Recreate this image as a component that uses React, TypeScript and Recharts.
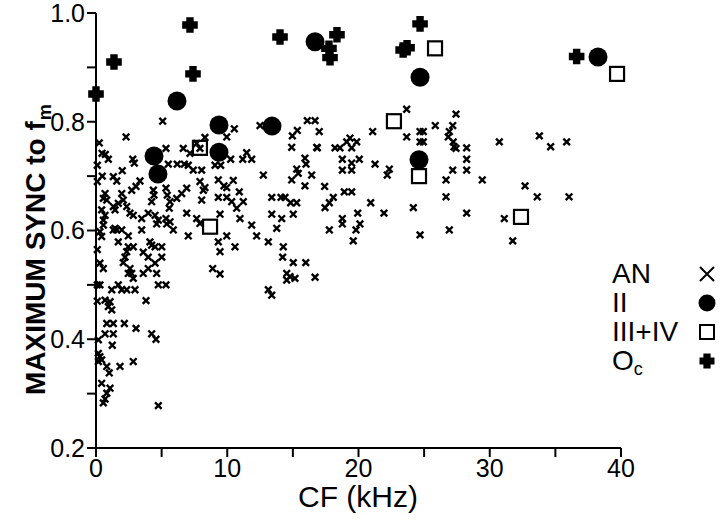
import React from "react";
import { ScatterChart, Scatter, XAxis, YAxis, Label } from "recharts";

const FONT = "'Liberation Sans', Arial, Helvetica, sans-serif";

// AN fibres: [CF kHz, max sync]
const anPoints: [number, number][] = [
  [5.08, 0.801], [2.29, 0.772], [0.25, 0.761], [5.33, 0.751], [0.46, 0.742], [0.71, 0.74], [0.94, 0.731],
  [2.8, 0.731], [2.92, 0.724], [5.51, 0.722], [6.19, 0.722], [6.73, 0.722], [7.03, 0.72], [6.65, 0.751],
  [7.16, 0.742], [7.67, 0.76], [8.3, 0.771], [7.92, 0.751], [7.41, 0.711], [8.05, 0.711],
  [0.48, 0.7], [1.32, 0.699], [1.58, 0.691], [2.0, 0.71], [3.35, 0.691], [3.05, 0.681], [2.72, 0.674],
  [0.69, 0.668], [0.56, 0.659], [0.82, 0.656], [1.96, 0.668], [2.08, 0.656], [1.7, 0.65], [2.34, 0.644],
  [4.37, 0.674], [4.42, 0.665], [5.33, 0.678], [5.43, 0.665], [5.64, 0.653], [5.58, 0.641],
  [6.91, 0.678], [6.53, 0.668], [6.15, 0.659], [7.92, 0.69], [8.18, 0.674], [8.05, 0.656], [4.24, 0.653],
  [1.32, 0.644], [1.45, 0.638], [0.43, 0.638], [0.69, 0.628], [0.56, 0.619], [2.59, 0.632], [2.84, 0.628],
  [3.48, 0.622], [3.98, 0.632], [4.5, 0.628], [4.75, 0.619], [5.33, 0.622], [5.64, 0.616],
  [6.91, 0.632], [7.67, 0.622], [7.92, 0.613], [0.56, 0.61], [1.45, 0.604],
  [10.54, 0.787], [9.96, 0.772], [12.5, 0.793], [16.1, 0.802], [16.69, 0.802], [15.34, 0.784], [14.96, 0.774],
  [17.01, 0.782], [14.91, 0.753], [16.82, 0.753], [11.48, 0.743], [11.18, 0.731], [11.86, 0.731], [10.26, 0.731],
  [9.07, 0.72], [9.5, 0.72], [15.92, 0.733], [16.0, 0.722], [15.29, 0.713], [15.41, 0.705], [14.91, 0.693],
  [16.43, 0.702], [12.75, 0.702],
  [9.32, 0.693], [9.75, 0.682], [9.96, 0.679], [10.46, 0.692], [8.3, 0.679], [10.92, 0.671], [15.92, 0.682],
  [9.32, 0.661], [9.96, 0.661], [10.34, 0.653], [10.72, 0.641], [11.22, 0.653], [13.39, 0.661], [14.1, 0.661],
  [14.4, 0.661], [14.83, 0.651], [15.29, 0.651], [9.45, 0.63], [13.39, 0.63], [14.15, 0.622], [15.03, 0.63],
  [10.97, 0.622], [11.86, 0.61], [13.77, 0.604],
  [23.67, 0.823], [27.43, 0.814], [21.08, 0.782], [24.69, 0.782], [24.94, 0.782], [25.85, 0.793], [27.18, 0.793],
  [26.92, 0.782], [26.84, 0.772], [23.67, 0.772], [30.73, 0.763], [24.69, 0.763], [24.94, 0.763], [16.86, 0.752],
  [18.21, 0.752], [18.59, 0.752], [19.1, 0.763], [19.35, 0.77], [19.48, 0.752], [19.86, 0.763], [27.22, 0.763],
  [27.28, 0.754], [27.43, 0.751], [28.24, 0.752],
  [18.77, 0.731], [18.77, 0.711], [19.48, 0.724], [19.48, 0.711], [20.06, 0.731], [21.26, 0.722], [22.35, 0.713],
  [22.19, 0.702], [28.24, 0.731], [28.24, 0.711], [27.18, 0.711], [26.67, 0.693], [29.43, 0.693], [17.42, 0.681],
  [18.92, 0.671], [19.48, 0.671], [18.08, 0.661], [17.78, 0.651], [17.45, 0.642], [20.93, 0.651], [26.67, 0.662],
  [24.18, 0.642], [19.94, 0.632], [21.94, 0.632], [28.24, 0.632], [18.77, 0.622], [18.77, 0.612], [20.11, 0.612],
  [19.81, 0.601], [17.78, 0.601], [26.92, 0.601], [31.11, 0.622], [24.69, 0.592], [19.6, 0.581], [16.69, 0.514],
  [31.75, 0.581], [15.98, 0.541], [33.78, 0.774], [34.64, 0.754], [35.86, 0.763], [32.69, 0.682], [33.62, 0.662],
  [36.04, 0.662],
  [0.3, 0.598], [0.43, 0.589], [1.32, 0.601], [1.58, 0.601], [1.96, 0.601], [2.46, 0.59], [3.48, 0.601],
  [4.62, 0.612], [5.39, 0.612], [5.89, 0.601], [7.03, 0.59], [1.7, 0.579], [2.46, 0.57], [2.84, 0.57],
  [4.11, 0.579], [4.24, 0.573], [4.5, 0.57], [5.01, 0.57], [9.32, 0.579], [9.96, 0.59], [9.45, 0.561],
  [10.59, 0.57], [12.24, 0.59], [13.13, 0.579], [14.27, 0.57], [14.22, 0.551], [15.03, 0.541],
  [3.6, 0.56], [3.98, 0.551], [5.01, 0.551], [2.34, 0.561], [2.21, 0.551], [2.08, 0.541], [0.3, 0.54],
  [0.56, 0.53], [2.59, 0.53], [2.72, 0.521], [2.84, 0.512], [2.46, 0.521], [3.6, 0.521], [3.98, 0.53],
  [4.5, 0.54], [4.62, 0.521], [8.89, 0.53], [9.45, 0.52], [14.53, 0.521], [14.78, 0.515], [15.16, 0.512],
  [14.53, 0.509], [13.13, 0.491], [13.39, 0.481],
  [0.3, 0.5], [0.1, 0.5], [1.2, 0.491], [1.7, 0.5], [1.96, 0.491], [2.34, 0.491], [2.97, 0.491], [4.75, 0.5],
  [5.33, 0.5], [0.69, 0.472], [1.07, 0.469], [0.94, 0.46], [1.2, 0.454], [3.81, 0.471], [0.82, 0.429],
  [1.32, 0.429], [2.16, 0.429], [3.05, 0.42], [0.69, 0.41], [1.32, 0.41], [4.24, 0.41], [4.57, 0.4],
  [0.18, 0.399], [1.24, 0.389], [0.18, 0.374], [0.3, 0.368], [0.18, 0.359], [0.43, 0.362], [0.82, 0.35],
  [1.01, 0.338], [1.83, 0.35], [2.84, 0.359], [0.43, 0.319], [1.07, 0.31], [0.82, 0.301], [0.69, 0.29],
  [0.56, 0.283], [4.75, 0.278],
  [0.1, 0.72], [0.1, 0.69], [0.1, 0.565], [0.1, 0.47],
];

// type II units
const typeIIPoints: [number, number][] = [
  [6.17, 0.838], [9.37, 0.794], [13.41, 0.792], [4.42, 0.737], [4.72, 0.704], [9.37, 0.744],
  [16.69, 0.947], [24.69, 0.882], [24.61, 0.73], [38.25, 0.919],
];

// type III + IV units
const typeIIIIVPoints: [number, number][] = [
  [7.92, 0.752], [8.69, 0.607], [22.7, 0.801], [24.61, 0.7], [25.83, 0.935], [32.38, 0.625], [39.7, 0.888],
];

// onset chopper units
const ocPoints: [number, number][] = [
  [0, 0.851], [1.37, 0.91], [7.16, 0.978], [7.39, 0.888], [14.02, 0.956], [17.75, 0.935], [17.83, 0.918],
  [18.36, 0.96], [23.4, 0.932], [23.7, 0.936], [24.69, 0.98], [36.62, 0.92],
];

const xTicks = [0, 5, 10, 15, 20, 25, 30, 35, 40];
const xTickLabels = [0, 10, 20, 30, 40];
const yTicks = [0.2, 0.3, 0.4, 0.5, 0.6, 0.7, 0.8, 0.9, 1.0];
const yTickLabels = [0.2, 0.4, 0.6, 0.8, 1.0];

const legendItems = ["AN", "II", "III+IV", "Oc"];

const toData = (pts: [number, number][]) => pts.map(([x, y]) => ({ x, y }));

const fmtX = (v: number) => (xTickLabels.includes(v) ? String(v) : "");
const fmtY = (v: number) =>
  yTickLabels.some((t) => Math.abs(t - v) < 1e-6) ? v.toFixed(1) : "";

// marker shapes
const Cross = (props: any) => {
  const { cx, cy } = props;
  const s = 3.3;
  return (
    <path
      d={`M${cx - s},${cy - s}L${cx + s},${cy + s}M${cx - s},${cy + s}L${cx + s},${cy - s}`}
      stroke="#000"
      strokeWidth={2.4}
    />
  );
};

const Dot = (props: any) => <circle cx={props.cx} cy={props.cy} r={9.5} fill="#000" />;

const Box = (props: any) => (
  <rect x={props.cx - 7} y={props.cy - 7} width={14} height={14} fill="none" stroke="#000" strokeWidth={2.2} />
);

const plusPath = (cx: number, cy: number, a: number, b: number) =>
  `M${cx - b},${cy - a}H${cx + b}V${cy - b}H${cx + a}V${cy + b}H${cx + b}V${cy + a}H${cx - b}V${cy + b}H${cx - a}V${cy - b}H${cx - b}Z`;

const Plus = (props: any) => <path d={plusPath(props.cx, props.cy, 7.8, 3.7)} fill="#000" />;

const axisStyle = { stroke: "#000", strokeWidth: 2 };
const tickStyle = { fill: "#000", fontSize: 25, fontFamily: FONT };

const LegendIcon = ({ i }: { i: number }) => (
  <svg width={22} height={22} style={{ display: "block" }}>
    {i === 0 && <path d="M4,4L18,18M4,18L18,4" stroke="#000" strokeWidth={2} />}
    {i === 1 && <circle cx={11} cy={11} r={8.5} fill="#000" />}
    {i === 2 && <rect x={4} y={4} width={14} height={14} fill="none" stroke="#000" strokeWidth={2} />}
    {i === 3 && <path d={plusPath(11, 11, 7.5, 3.6)} fill="#000" />}
  </svg>
);

const App = () => (
  <div style={{ position: "absolute", left: 0, top: 0, width: 720, height: 525, background: "#fff" }}>
    <ScatterChart width={720} height={525} margin={{ top: 13, right: 99, bottom: 47, left: 36 }}>
      <XAxis
        type="number"
        dataKey="x"
        domain={[0, 40]}
        ticks={xTicks}
        interval={0}
        tickFormatter={fmtX}
        axisLine={axisStyle}
        tickLine={axisStyle}
        tickSize={9}
        tick={tickStyle}
        height={30}
      >
        <Label
          content={() => (
            <text x={358} y={507} textAnchor="middle" fontSize={30} fontFamily={FONT} fill="#000">
              CF (kHz)
            </text>
          )}
        />
      </XAxis>
      <YAxis
        type="number"
        dataKey="y"
        domain={[0.2, 1]}
        ticks={yTicks}
        interval={0}
        tickFormatter={fmtY}
        axisLine={axisStyle}
        tickLine={axisStyle}
        tickSize={9}
        tick={tickStyle}
        width={60}
      >
        <Label
          content={() => (
            <text
              x={45}
              y={395}
              transform="rotate(-90, 45, 395)"
              textAnchor="start"
              fontSize={28}
              fontWeight="bold"
              fontFamily={FONT}
              fill="#000"
            >
              MAXIMUM SYNC to f
              <tspan fontSize={18} dx={1} dy={6}>m</tspan>
            </text>
          )}
        />
      </YAxis>
      <Scatter name="AN" data={toData(anPoints)} shape={Cross} isAnimationActive={false} />
      <Scatter name="II" data={toData(typeIIPoints)} shape={Dot} isAnimationActive={false} />
      <Scatter name="III+IV" data={toData(typeIIIIVPoints)} shape={Box} isAnimationActive={false} />
      <Scatter name="Oc" data={toData(ocPoints)} shape={Plus} isAnimationActive={false} />
    </ScatterChart>
    {legendItems.map((name, i) => (
      <div
        key={name}
        style={{
          position: "absolute",
          left: 612,
          top: 259 + i * 29,
          width: 106,
          height: 29,
          display: "flex",
          alignItems: "center",
          justifyContent: "space-between",
          fontFamily: FONT,
          fontSize: 28,
          lineHeight: "29px",
          color: "#000",
        }}
      >
        <span>
          {name === "Oc" ? (
            <>
              O<span style={{ fontSize: 18, lineHeight: 0, position: "relative", top: 5 }}>c</span>
            </>
          ) : (
            name
          )}
        </span>
        <LegendIcon i={i} />
      </div>
    ))}
  </div>
);

export default App;
